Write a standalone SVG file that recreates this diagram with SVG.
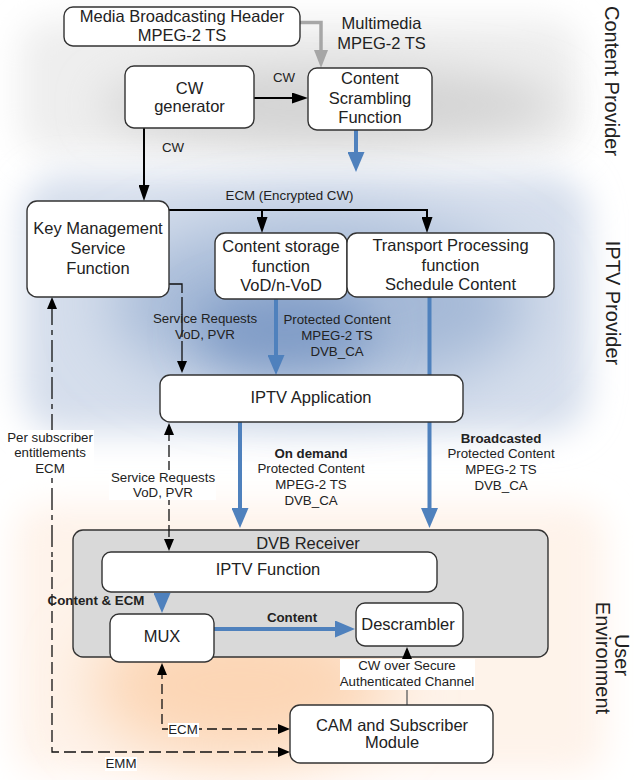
<svg xmlns="http://www.w3.org/2000/svg" width="634" height="780" viewBox="0 0 634 780">
  <style>
    text { font-family: "Liberation Sans", Arial, sans-serif; fill: #222; text-anchor: middle; }
    .t { font-size: 16.5px; }
    .s { font-size: 13.3px; }
    .b { font-weight: bold; }
    .region { font-size: 20px; }
    .box { fill: #fff; stroke: #333; stroke-width: 1.4; }
    .wire { fill: none; stroke: #000; stroke-width: 2; }
    .dash { fill: none; stroke: #111; stroke-width: 1.3; stroke-dasharray: 10 5; }
    .flow { fill: none; stroke: #4f81bd; stroke-width: 4; }
    .lblbg { fill: #fff; }
  </style>
  <defs>
    <marker id="ahBlack" viewBox="0 0 16 11" refX="8" refY="5.5" markerWidth="16" markerHeight="11" markerUnits="userSpaceOnUse" orient="auto">
      <path d="M0,0 L16,5.5 L0,11 z" fill="#000"/>
    </marker>
    <marker id="ahSmall" viewBox="0 0 12 10" refX="6" refY="5" markerWidth="12" markerHeight="10" markerUnits="userSpaceOnUse" orient="auto-start-reverse">
      <path d="M0,0 L12,5 L0,10 z" fill="#000"/>
    </marker>
    <marker id="ahGray" viewBox="0 0 18 14" refX="9" refY="7" markerWidth="18" markerHeight="14" markerUnits="userSpaceOnUse" orient="auto">
      <path d="M0,0 L18,7 L0,14 z" fill="#a6a6a6"/>
    </marker>
    <marker id="ahBlue" viewBox="0 0 20 17" refX="10" refY="8.5" markerWidth="20" markerHeight="17" markerUnits="userSpaceOnUse" orient="auto">
      <path d="M0,0 L20,8.5 L0,17 z" fill="#4f81bd"/>
    </marker>
    <filter id="blurS" x="-30%" y="-40%" width="160%" height="180%">
      <feGaussianBlur stdDeviation="17"/>
    </filter>
    <filter id="blurM" x="-50%" y="-80%" width="200%" height="260%">
      <feGaussianBlur stdDeviation="22"/>
    </filter>
    <filter id="blurL" x="-50%" y="-80%" width="200%" height="260%">
      <feGaussianBlur stdDeviation="32"/>
    </filter>
  </defs>

  <!-- shaded zones behind the three domains -->
  <g id="backdrop">
    <rect x="0" y="0" width="634" height="780" fill="#fff"/>
    <!-- content provider: grey -->
    <rect x="20" y="20" width="560" height="135" rx="30" fill="#eeeeee" filter="url(#blurS)"/>
    <ellipse cx="330" cy="105" rx="230" ry="40" fill="#d4d4d4" filter="url(#blurM)"/>
    <!-- IPTV provider: blue -->
    <rect x="22" y="175" width="566" height="258" rx="40" fill="#d5deec" filter="url(#blurS)"/>
    <ellipse cx="320" cy="305" rx="210" ry="85" fill="#a5b9d7" filter="url(#blurL)"/>
    <ellipse cx="285" cy="330" rx="90" ry="40" fill="#819dc7" filter="url(#blurM)"/>
    <!-- user environment: peach -->
    <rect x="15" y="505" width="590" height="268" rx="30" fill="#fef3ea" filter="url(#blurS)"/>
    <ellipse cx="240" cy="685" rx="150" ry="75" fill="#fcd6b5" filter="url(#blurL)"/>
  </g>

  <!-- receiver container -->
  <g id="dvb-receiver">
    <rect x="73" y="530" width="475" height="127" rx="10" fill="#d9d9d9" stroke="#333" stroke-width="1.4"/>
    <text class="t" x="308" y="549">DVB Receiver</text>
  </g>

  <g id="connectors">
    <!-- multimedia stream into scrambler -->
    <path d="M300,22.5 H321 V59" fill="none" stroke="#a6a6a6" stroke-width="3.5" marker-end="url(#ahGray)"/>
    <!-- control word paths -->
    <path class="wire" d="M254,98 H300" marker-end="url(#ahBlack)"/>
    <path class="wire" d="M144,128 V193" marker-end="url(#ahBlack)"/>
    <!-- ECM distribution -->
    <path class="wire" d="M169,210 H427 V225" marker-end="url(#ahBlack)"/>
    <path class="wire" d="M262,210 V225" marker-end="url(#ahBlack)"/>
    <!-- protected content flows -->
    <path class="flow" d="M356,130 V162" marker-end="url(#ahBlue)"/>
    <path class="flow" d="M276,299 V365" marker-end="url(#ahBlue)"/>
    <path class="flow" d="M429.5,297 V518" marker-end="url(#ahBlue)"/>
    <path class="flow" d="M240,422 V518" marker-end="url(#ahBlue)"/>
    <path class="flow" d="M162,593 V603" marker-end="url(#ahBlue)"/>
    <path class="flow" d="M214,629 H345" marker-end="url(#ahBlue)"/>
    <!-- service requests -->
    <path class="dash" style="stroke-dasharray: 40 4" d="M151,284 H182 V367" marker-start="url(#ahSmall)" marker-end="url(#ahSmall)"/>
    <path class="dash" style="stroke-dasharray: 12 4" d="M169,429 V545" marker-start="url(#ahSmall)" marker-end="url(#ahSmall)"/>
    <!-- entitlements / EMM -->
    <path class="dash" style="stroke-dasharray: 22 5 5 5" d="M52,303 V560" marker-start="url(#ahSmall)"/>
    <path class="dash" style="stroke-dasharray: 12 5" d="M52,560 V752 H284" marker-end="url(#ahSmall)"/>
    <!-- ECM to CAM -->
    <path class="dash" d="M162,669 V729 H284" marker-start="url(#ahSmall)" marker-end="url(#ahSmall)"/>
    <!-- CW over secure channel -->
    <path d="M407,705 V653" fill="none" stroke="#6f6f6f" stroke-width="1.5" marker-end="url(#ahSmall)"/>
  </g>

  <!-- connector labels -->
  <g id="connector-labels">
    <text class="s" x="284" y="82">CW</text>
    <text class="s" x="173" y="152">CW</text>
    <text class="s" x="289.5" y="200">ECM (Encrypted CW)</text>
    <text class="s" x="205" y="323">Service Requests</text>
    <text class="s" x="205" y="339">VoD, PVR</text>
    <text class="s" x="337" y="324">Protected Content</text>
    <text class="s" x="337" y="340">MPEG-2 TS</text>
    <text class="s" x="337" y="356">DVB_CA</text>
    <text class="t" x="381.5" y="29">Multimedia</text>
    <text class="t" x="381.5" y="49">MPEG-2 TS</text>

    <rect class="lblbg" x="6" y="430" width="88" height="47"/>
    <text class="s" x="50" y="442">Per subscriber</text>
    <text class="s" x="50" y="457">entitlements</text>
    <text class="s" x="50" y="473">ECM</text>

    <rect class="lblbg" x="109" y="470" width="107" height="30"/>
    <text class="s" x="163" y="482">Service Requests</text>
    <text class="s" x="163" y="497">VoD, PVR</text>

    <text class="s b" x="311" y="458">On demand</text>
    <text class="s" x="311" y="473">Protected Content</text>
    <text class="s" x="311" y="489">MPEG-2 TS</text>
    <text class="s" x="311" y="505">DVB_CA</text>

    <text class="s b" x="501" y="443">Broadcasted</text>
    <text class="s" x="501" y="458">Protected Content</text>
    <text class="s" x="501" y="474">MPEG-2 TS</text>
    <text class="s" x="501" y="490">DVB_CA</text>

    <text class="s b" x="96" y="605">Content &amp; ECM</text>
    <text class="s b" x="292" y="622">Content</text>

    <rect class="lblbg" x="340" y="659" width="135" height="31"/>
    <text class="s" x="407" y="670">CW over Secure</text>
    <text class="s" x="407" y="686">Authenticated Channel</text>

    <rect class="lblbg" x="168" y="723" width="31" height="14"/>
    <text class="s" x="183" y="734">ECM</text>
    <rect class="lblbg" x="105" y="757" width="32" height="14"/>
    <text class="s" x="121" y="768">EMM</text>
  </g>

  <g id="media-header">
    <rect class="box" x="64" y="7" width="236" height="39" rx="9"/>
    <text class="t" x="182" y="22">Media Broadcasting Header</text>
    <text class="t" x="182" y="41">MPEG-2 TS</text>
  </g>

  <g id="cw-generator">
    <rect class="box" x="125" y="66" width="129" height="62" rx="9"/>
    <text class="t" x="189.5" y="94">CW</text>
    <text class="t" x="189.5" y="112">generator</text>
  </g>

  <g id="content-scrambling">
    <rect class="box" x="308" y="68" width="124" height="62" rx="9"/>
    <text class="t" x="370" y="84">Content</text>
    <text class="t" x="370" y="104">Scrambling</text>
    <text class="t" x="370" y="123">Function</text>
  </g>

  <g id="key-management">
    <rect class="box" x="27" y="201" width="142" height="96" rx="10"/>
    <text class="t" x="98" y="234">Key Management</text>
    <text class="t" x="98" y="254">Service</text>
    <text class="t" x="98" y="274">Function</text>
  </g>

  <g id="content-storage">
    <rect class="box" x="215" y="233" width="132" height="66" rx="10"/>
    <text class="t" x="281" y="252">Content storage</text>
    <text class="t" x="281" y="272">function</text>
    <text class="t" x="281" y="291">VoD/n-VoD</text>
  </g>

  <g id="transport-processing">
    <rect class="box" x="347" y="233" width="207" height="64" rx="10"/>
    <text class="t" x="450.5" y="251">Transport Processing</text>
    <text class="t" x="450.5" y="271">function</text>
    <text class="t" x="450.5" y="290">Schedule Content</text>
  </g>

  <g id="iptv-application">
    <rect class="box" x="160" y="375" width="303" height="47" rx="10"/>
    <text class="t" x="311" y="403">IPTV Application</text>
  </g>

  <g id="iptv-function">
    <rect class="box" x="102" y="552" width="335" height="40" rx="9"/>
    <text class="t" x="268" y="575">IPTV Function</text>
  </g>

  <g id="mux">
    <rect class="box" x="110" y="614" width="104" height="48" rx="9"/>
    <text class="t" x="162" y="642">MUX</text>
  </g>

  <g id="descrambler">
    <rect class="box" x="356" y="603" width="107" height="43" rx="9"/>
    <text class="t" x="408" y="630">Descrambler</text>
  </g>

  <g id="cam-module">
    <rect class="box" x="290" y="705" width="203" height="58" rx="10"/>
    <text class="t" x="392" y="731">CAM and Subscriber</text>
    <text class="t" x="392" y="748">Module</text>
  </g>

  <!-- domain captions down the right edge -->
  <g id="domain-labels">
    <text class="region" transform="translate(605,81) rotate(90)">Content Provider</text>
    <text class="region" transform="translate(606,303) rotate(90)">IPTV Provider</text>
    <text class="region" transform="translate(615,655) rotate(90)">User</text>
    <text class="region" transform="translate(596,658) rotate(90)">Environment</text>
  </g>
</svg>
